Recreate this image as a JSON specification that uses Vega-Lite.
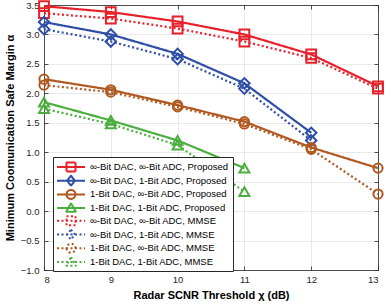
{
  "$schema": "https://vega.github.io/schema/vega-lite/v6.json",
  "width": 334,
  "height": 265,
  "autosize": {"type": "none"},
  "padding": {"left": 44, "top": 5, "right": 12, "bottom": 35},
  "background": "white",
  "config": {
    "view": {"stroke": null},
    "font": "Liberation Sans",
    "point": {"filled": false, "strokeWidth": 2, "size": 90, "opacity": 1},
    "axis": {
      "domainColor": "#262626",
      "domainWidth": 0.8,
      "tickColor": "#262626",
      "tickWidth": 0.8,
      "tickSize": -4,
      "labelColor": "#262626",
      "labelFontSize": 9.5,
      "titleColor": "#000000",
      "titleFontSize": 11,
      "titleFontWeight": "bold",
      "gridColor": "#e3e3e3",
      "gridWidth": 0.8
    }
  },
  "data": {
    "values": [
      {"s": "∞-Bit DAC, ∞-Bit ADC, Proposed", "x": 8, "y": 3.48},
      {"s": "∞-Bit DAC, ∞-Bit ADC, Proposed", "x": 9, "y": 3.38},
      {"s": "∞-Bit DAC, ∞-Bit ADC, Proposed", "x": 10, "y": 3.22},
      {"s": "∞-Bit DAC, ∞-Bit ADC, Proposed", "x": 11, "y": 3.0},
      {"s": "∞-Bit DAC, ∞-Bit ADC, Proposed", "x": 12, "y": 2.66},
      {"s": "∞-Bit DAC, ∞-Bit ADC, Proposed", "x": 13, "y": 2.12},
      {"s": "∞-Bit DAC, 1-Bit ADC, Proposed", "x": 8, "y": 3.21},
      {"s": "∞-Bit DAC, 1-Bit ADC, Proposed", "x": 9, "y": 3.0},
      {"s": "∞-Bit DAC, 1-Bit ADC, Proposed", "x": 10, "y": 2.67},
      {"s": "∞-Bit DAC, 1-Bit ADC, Proposed", "x": 11, "y": 2.17},
      {"s": "∞-Bit DAC, 1-Bit ADC, Proposed", "x": 12, "y": 1.33},
      {"s": "1-Bit DAC, ∞-Bit ADC, Proposed", "x": 8, "y": 2.24},
      {"s": "1-Bit DAC, ∞-Bit ADC, Proposed", "x": 9, "y": 2.06},
      {"s": "1-Bit DAC, ∞-Bit ADC, Proposed", "x": 10, "y": 1.8},
      {"s": "1-Bit DAC, ∞-Bit ADC, Proposed", "x": 11, "y": 1.52},
      {"s": "1-Bit DAC, ∞-Bit ADC, Proposed", "x": 12, "y": 1.08},
      {"s": "1-Bit DAC, ∞-Bit ADC, Proposed", "x": 13, "y": 0.73},
      {"s": "1-Bit DAC, 1-Bit ADC, Proposed", "x": 8, "y": 1.85},
      {"s": "1-Bit DAC, 1-Bit ADC, Proposed", "x": 9, "y": 1.54},
      {"s": "1-Bit DAC, 1-Bit ADC, Proposed", "x": 10, "y": 1.2},
      {"s": "1-Bit DAC, 1-Bit ADC, Proposed", "x": 11, "y": 0.73},
      {"s": "∞-Bit DAC, ∞-Bit ADC, MMSE", "x": 8, "y": 3.36},
      {"s": "∞-Bit DAC, ∞-Bit ADC, MMSE", "x": 9, "y": 3.27},
      {"s": "∞-Bit DAC, ∞-Bit ADC, MMSE", "x": 10, "y": 3.1},
      {"s": "∞-Bit DAC, ∞-Bit ADC, MMSE", "x": 11, "y": 2.88},
      {"s": "∞-Bit DAC, ∞-Bit ADC, MMSE", "x": 12, "y": 2.6},
      {"s": "∞-Bit DAC, ∞-Bit ADC, MMSE", "x": 13, "y": 2.08},
      {"s": "∞-Bit DAC, 1-Bit ADC, MMSE", "x": 8, "y": 3.09},
      {"s": "∞-Bit DAC, 1-Bit ADC, MMSE", "x": 9, "y": 2.88},
      {"s": "∞-Bit DAC, 1-Bit ADC, MMSE", "x": 10, "y": 2.58},
      {"s": "∞-Bit DAC, 1-Bit ADC, MMSE", "x": 11, "y": 2.08},
      {"s": "∞-Bit DAC, 1-Bit ADC, MMSE", "x": 12, "y": 1.2},
      {"s": "1-Bit DAC, ∞-Bit ADC, MMSE", "x": 8, "y": 2.14},
      {"s": "1-Bit DAC, ∞-Bit ADC, MMSE", "x": 9, "y": 2.02},
      {"s": "1-Bit DAC, ∞-Bit ADC, MMSE", "x": 10, "y": 1.77},
      {"s": "1-Bit DAC, ∞-Bit ADC, MMSE", "x": 11, "y": 1.48},
      {"s": "1-Bit DAC, ∞-Bit ADC, MMSE", "x": 12, "y": 1.05},
      {"s": "1-Bit DAC, ∞-Bit ADC, MMSE", "x": 13, "y": 0.29},
      {"s": "1-Bit DAC, 1-Bit ADC, MMSE", "x": 8, "y": 1.74},
      {"s": "1-Bit DAC, 1-Bit ADC, MMSE", "x": 9, "y": 1.48},
      {"s": "1-Bit DAC, 1-Bit ADC, MMSE", "x": 10, "y": 1.12},
      {"s": "1-Bit DAC, 1-Bit ADC, MMSE", "x": 11, "y": 0.33}
    ]
  },
  "layer": [
    {
      "mark": {"type": "line", "strokeWidth": 2.2},
      "encoding": {
        "x": {
          "field": "x", "type": "quantitative",
          "scale": {"domain": [8, 13], "nice": false, "zero": false},
          "axis": {"orient": "bottom", "title": "Radar SCNR Threshold χ (dB)", "values": [8, 9, 10, 11, 12, 13], "format": "d", "grid": true, "labelPadding": 8, "titlePadding": 6}
        },
        "y": {
          "field": "y", "type": "quantitative",
          "scale": {"domain": [-1, 3.5], "nice": false, "zero": false},
          "axis": {"orient": "left", "title": "Minimum Coomunication Safe Margin α", "values": [-1, -0.5, 0, 0.5, 1, 1.5, 2, 2.5, 3, 3.5], "grid": true, "labelPadding": 9, "titlePadding": 5}
        },
        "color": {
          "field": "s", "type": "nominal",
          "scale": {
            "domain": ["∞-Bit DAC, ∞-Bit ADC, Proposed", "∞-Bit DAC, 1-Bit ADC, Proposed", "1-Bit DAC, ∞-Bit ADC, Proposed", "1-Bit DAC, 1-Bit ADC, Proposed", "∞-Bit DAC, ∞-Bit ADC, MMSE", "∞-Bit DAC, 1-Bit ADC, MMSE", "1-Bit DAC, ∞-Bit ADC, MMSE", "1-Bit DAC, 1-Bit ADC, MMSE"],
            "range": ["#e8202a", "#2f4ea6", "#b0581f", "#4cae3e", "#e8202a", "#2f4ea6", "#b0581f", "#4cae3e"]
          },
          "legend": {
            "title": null,
            "orient": "none",
            "legendX": 9,
            "legendY": 152,
            "labelFontSize": 9.5,
            "labelColor": "#000000",
            "labelLimit": 300,
            "labelOffset": 13,
            "symbolOffset": 8,
            "symbolSize": 100,
            "symbolStrokeWidth": 2,
            "rowPadding": 1.7,
            "padding": 4,
            "strokeColor": "#262626",
            "fillColor": "white",
            "encode": {
              "symbols": {
                "update": {
                  "size": {"value": 100},
                  "shape": {"signal": "['M-2.8,0L2.8,0M-0.9,-0.9L0.9,-0.9L0.9,0.9L-0.9,0.9Z','M-2.8,0L2.8,0M0,-1.0L0.78,0L0,1.0L-0.78,0Z','M-2.8,0L2.8,0M-0.9,0A0.9,0.9 0 1,0 0.9,0A0.9,0.9 0 1,0 -0.9,0','M-2.8,0L2.8,0M0,-0.95L1.0,0.75L-1.0,0.75Z'][datum.index % 4]"},
                  "strokeDash": {"signal": "datum.index >= 4 ? [2, 2] : [1, 0]"},
                  "strokeJoin": {"value": "bevel"},
                  "fill": {"value": "transparent"},
                  "strokeWidth": {"value": 2}
                }
              }
            }
          }
        },
        "strokeDash": {
          "field": "s", "type": "nominal",
          "scale": {
            "domain": ["∞-Bit DAC, ∞-Bit ADC, Proposed", "∞-Bit DAC, 1-Bit ADC, Proposed", "1-Bit DAC, ∞-Bit ADC, Proposed", "1-Bit DAC, 1-Bit ADC, Proposed", "∞-Bit DAC, ∞-Bit ADC, MMSE", "∞-Bit DAC, 1-Bit ADC, MMSE", "1-Bit DAC, ∞-Bit ADC, MMSE", "1-Bit DAC, 1-Bit ADC, MMSE"],
            "range": [[1, 0], [1, 0], [1, 0], [1, 0], [2, 2.5], [2, 2.5], [2, 2.5], [2, 2.5]]
          },
          "legend": null
        }
      }
    },
    {
      "transform": [{"filter": "indexof(datum.s, '∞-Bit DAC, ∞-Bit ADC') == 0"}],
      "mark": {"type": "point", "shape": "square", "size": 95},
      "encoding": {
        "x": {"field": "x", "type": "quantitative", "axis": null},
        "y": {"field": "y", "type": "quantitative", "axis": null},
        "color": {"field": "s", "type": "nominal"}
      }
    },
    {
      "transform": [{"filter": "indexof(datum.s, '∞-Bit DAC, 1-Bit ADC') == 0"}],
      "mark": {"type": "point", "shape": "diamond", "size": 110},
      "encoding": {
        "x": {"field": "x", "type": "quantitative", "axis": null},
        "y": {"field": "y", "type": "quantitative", "axis": null},
        "color": {"field": "s", "type": "nominal"}
      }
    },
    {
      "transform": [{"filter": "indexof(datum.s, '1-Bit DAC, ∞-Bit ADC') == 0"}],
      "mark": {"type": "point", "shape": "circle", "size": 85},
      "encoding": {
        "x": {"field": "x", "type": "quantitative", "axis": null},
        "y": {"field": "y", "type": "quantitative", "axis": null},
        "color": {"field": "s", "type": "nominal"}
      }
    },
    {
      "transform": [{"filter": "indexof(datum.s, '1-Bit DAC, 1-Bit ADC') == 0"}],
      "mark": {"type": "point", "shape": "triangle-up", "size": 100},
      "encoding": {
        "x": {"field": "x", "type": "quantitative", "axis": null},
        "y": {"field": "y", "type": "quantitative", "axis": null},
        "color": {"field": "s", "type": "nominal"}
      }
    },
    {
      "mark": {"type": "point", "opacity": 0},
      "encoding": {
        "x": {"field": "x", "type": "quantitative", "axis": {"orient": "top", "title": null, "labels": false, "grid": false, "values": [8, 9, 10, 11, 12, 13]}},
        "y": {"field": "y", "type": "quantitative", "axis": {"orient": "right", "title": null, "labels": false, "grid": false, "values": [-1, -0.5, 0, 0.5, 1, 1.5, 2, 2.5, 3, 3.5]}}
      }
    }
  ],
  "resolve": {"axis": {"x": "independent", "y": "independent"}}
}
